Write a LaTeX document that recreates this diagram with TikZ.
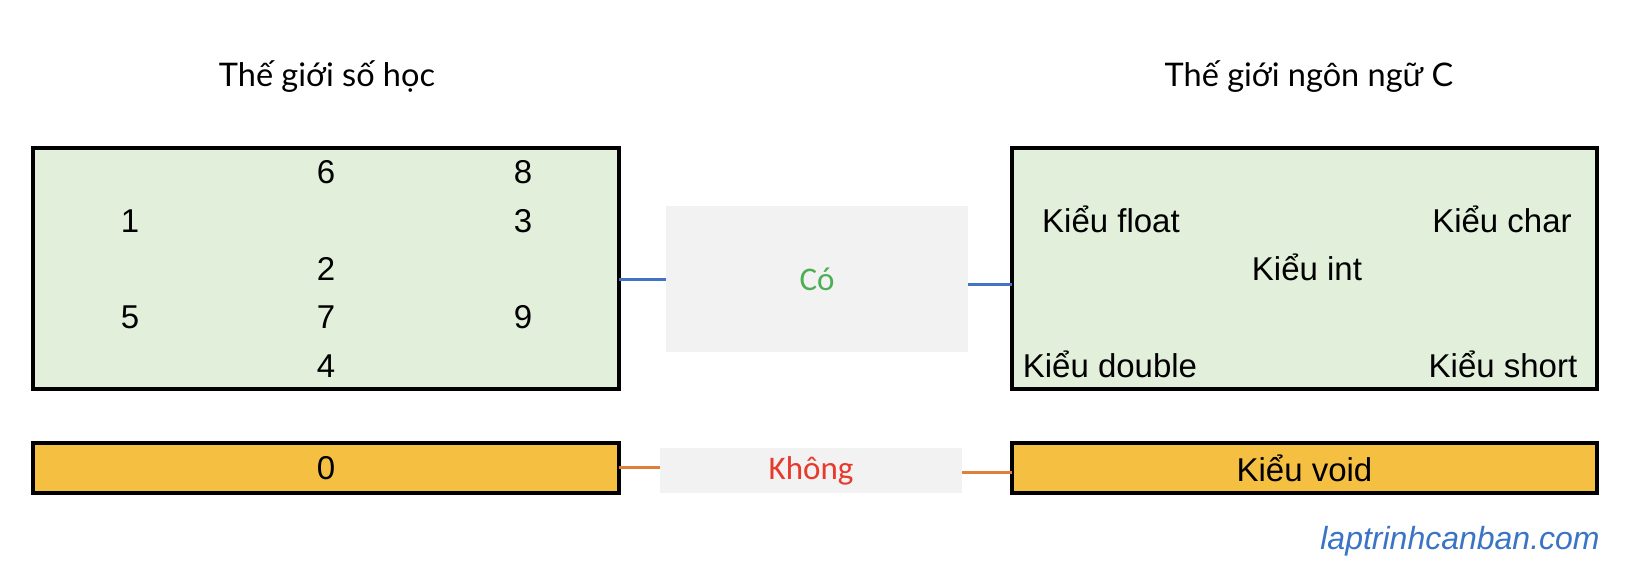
\documentclass[tikz,border=0pt]{standalone}
\usepackage{fontspec}
\setmainfont{Liberation Sans}
\newfontfamily\titlefont{Lato}
\newfontfamily\califont{Carlito}
\definecolor{boxgreen}{HTML}{E2EFDA}
\definecolor{boxorange}{HTML}{F5BF41}
\definecolor{midgray}{HTML}{F2F2F2}
\definecolor{linkblue}{HTML}{4472C4}
\definecolor{linkorange}{HTML}{E07E3C}
\definecolor{cogreen}{HTML}{4CAF55}
\definecolor{khred}{HTML}{E8392B}
\definecolor{wmblue}{HTML}{3A74C4}
\begin{document}
\begin{tikzpicture}[x=1pt,y=-1pt,
  world/.style={draw=black,line width=4pt,inner sep=0pt,outer sep=0pt},
  greenbox/.style={world,fill=boxgreen,minimum height=241pt},
  orangebox/.style={world,fill=boxorange,minimum height=50pt,font=\fontsize{33}{40}\selectfont},
  midbox/.style={fill=midgray,inner sep=0pt,outer sep=0pt,minimum width=302pt,font=\califont\fontsize{33}{38}\selectfont},
  item/.style={inner sep=0pt,font=\fontsize{33}{40}\selectfont},
  title/.style={inner sep=0pt,font=\titlefont\fontsize{32.5}{38}\selectfont},
  bluelink/.style={draw=linkblue,line width=3pt},
  orangelink/.style={draw=linkorange,line width=3pt}]
\useasboundingbox (0,0) rectangle (1634,566);
\fill[white] (0,0) rectangle (1634,566);
% titles
\node[title] (t1) at (327,77) {Thế giới số học};
\node[title] (t2) at (1309,77) {Thế giới ngôn ngữ C};
% boxes
\node[greenbox,minimum width=586pt] (lbox) at (326,268.5) {};
\node[greenbox,minimum width=585pt] (rbox) at (1304.5,268.5) {};
\node[orangebox,minimum width=586pt] (zero) at (326,468) {0};
\node[orangebox,minimum width=585pt] (void) at (1304.5,468) {Kiểu void};
\node[midbox,minimum height=146pt,text=cogreen] (co) at (817,279) {Có};
\node[midbox,minimum height=45pt,text=khred] (kh) at (811,470.5) {Không};
% numbers
\node[item] (n6) at (326,172) {6};
\node[item] (n8) at (523,172) {8};
\node[item] (n1) at (130,221) {1};
\node[item] (n3) at (523,221) {3};
\node[item] (n2) at (326,269) {2};
\node[item] (n5) at (130,317) {5};
\node[item] (n7) at (326,317) {7};
\node[item] (n9) at (523,317) {9};
\node[item] (n4) at (326,366) {4};
% C types
\node[item] (kfloat) at (1111,219) {Kiểu float};
\node[item] (kchar) at (1502,219) {Kiểu char};
\node[item] (kint) at (1307,267) {Kiểu int};
\node[item] (kdouble) at (1110,364) {Kiểu double};
\node[item] (kshort) at (1503,364) {Kiểu short};
% connector end points
\coordinate (coR) at ([yshift=-5pt]co.east);
\coordinate (khL) at ([yshift=3.5pt]kh.west);
\coordinate (khR) at ([yshift=-1.5pt]kh.east);
% connectors
\draw[bluelink] (lbox.east |- co.west) -- (co.west);
\draw[bluelink] (coR) -- (rbox.west |- coR);
\draw[orangelink] (khL) -- (zero.east |- khL);
\draw[orangelink] (khR) -- (void.west |- khR);
% watermark
\node[inner sep=0pt,text=wmblue,font=\itshape\fontsize{32}{38}\selectfont] (wm) at (1460,541) {laptrinhcanban.com};
\end{tikzpicture}
\end{document}
